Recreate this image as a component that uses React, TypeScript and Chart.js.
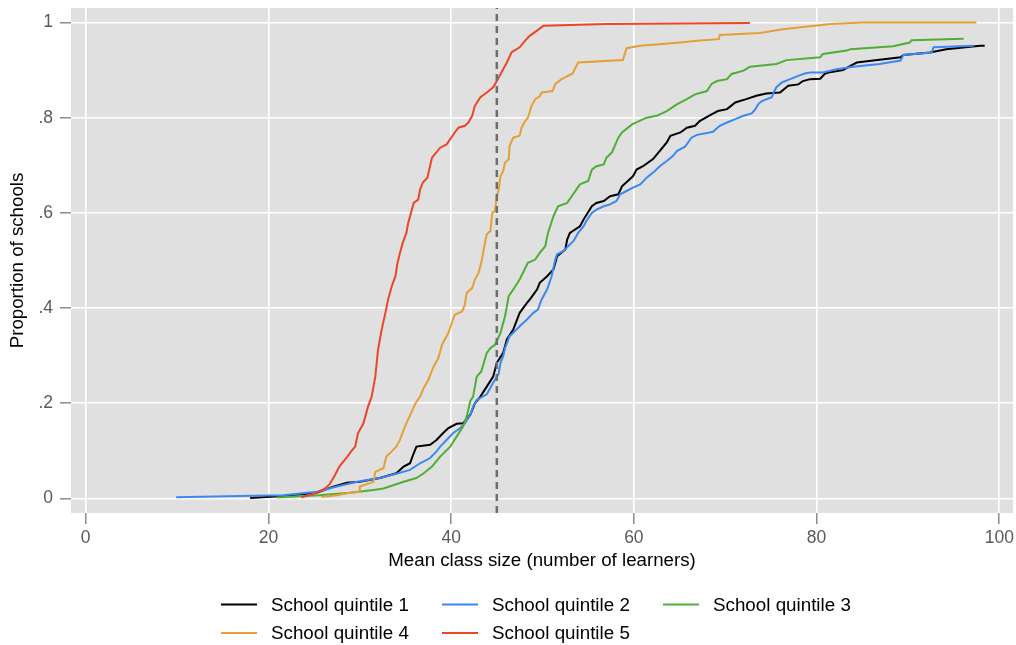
import { useEffect, useRef } from "react";
import { Chart, registerables } from "chart.js";

Chart.register(...registerables);

// Cumulative share of schools by mean class size, one curve per school quintile.
// Each entry is [mean class size, cumulative proportion of schools].
const quintile1: [number, number][] = [
  [18.0, 0.001], [21.6, 0.005], [25.3, 0.012], [27.1, 0.025], [28.6, 0.033], [30.0, 0.035],
  [32.2, 0.043], [34.0, 0.053], [34.8, 0.067], [35.5, 0.074], [35.9, 0.095], [36.2, 0.109],
  [37.7, 0.113], [38.4, 0.123], [39.1, 0.137], [39.7, 0.148], [40.6, 0.157], [41.3, 0.158],
  [42.1, 0.176], [42.6, 0.2], [43.2, 0.214], [43.9, 0.235], [44.6, 0.256], [45.0, 0.285],
  [45.7, 0.306], [46.1, 0.334], [46.8, 0.355], [47.5, 0.39], [48.3, 0.411], [48.6, 0.418],
  [49.4, 0.439], [49.7, 0.453], [50.5, 0.467], [51.2, 0.481], [51.6, 0.509], [52.5, 0.523],
  [52.7, 0.544], [53.0, 0.558], [54.1, 0.572], [54.5, 0.586], [55.4, 0.614], [55.9, 0.621],
  [56.7, 0.625], [57.4, 0.635], [58.3, 0.639], [58.7, 0.656], [59.9, 0.677], [60.3, 0.691],
  [61.0, 0.698], [62.1, 0.713], [63.0, 0.734], [63.6, 0.748], [64.0, 0.762], [65.1, 0.769],
  [65.8, 0.779], [66.7, 0.783], [67.2, 0.793], [68.5, 0.807], [69.2, 0.814], [70.2, 0.818],
  [71.1, 0.832], [72.3, 0.839], [73.4, 0.846], [74.5, 0.851], [76.0, 0.853], [76.9, 0.867],
  [78.0, 0.87], [78.5, 0.877], [79.3, 0.881], [80.4, 0.882], [80.9, 0.892], [81.3, 0.895],
  [82.9, 0.9], [83.7, 0.909], [84.4, 0.916], [86.2, 0.92], [89.2, 0.927], [89.5, 0.932],
  [92.4, 0.937], [94.2, 0.944], [97.9, 0.951], [98.4, 0.951],
];

const quintile2: [number, number][] = [
  [9.9, 0.0025], [16.9, 0.005], [21.6, 0.007], [25.3, 0.014], [27.5, 0.025], [29.7, 0.035],
  [32.2, 0.043], [34.0, 0.052], [35.5, 0.06], [36.6, 0.074], [37.7, 0.085], [38.4, 0.099],
  [38.8, 0.109], [39.5, 0.123], [40.2, 0.137], [41.0, 0.148], [41.5, 0.158], [42.1, 0.176],
  [42.4, 0.193], [42.8, 0.207], [43.9, 0.219], [44.6, 0.243], [45.2, 0.262], [45.4, 0.285],
  [45.7, 0.299], [45.9, 0.316], [46.4, 0.341], [46.8, 0.348], [47.5, 0.362], [48.3, 0.376],
  [49.0, 0.39], [49.5, 0.397], [49.9, 0.418], [50.5, 0.439], [51.0, 0.467], [51.4, 0.502],
  [51.6, 0.513], [52.3, 0.52], [52.8, 0.53], [53.4, 0.541], [53.9, 0.558], [54.5, 0.572],
  [54.8, 0.583], [55.4, 0.6], [55.9, 0.607], [56.7, 0.614], [57.4, 0.618], [58.1, 0.625],
  [58.5, 0.639], [59.2, 0.646], [59.9, 0.653], [60.7, 0.66], [61.4, 0.674], [62.3, 0.688],
  [62.9, 0.699], [63.6, 0.709], [64.3, 0.72], [64.7, 0.73], [65.6, 0.739], [66.3, 0.758],
  [66.9, 0.764], [68.3, 0.769], [68.7, 0.771], [69.4, 0.783], [70.2, 0.79], [71.1, 0.797],
  [72.0, 0.804], [72.9, 0.809], [73.3, 0.818], [73.6, 0.828], [74.0, 0.835], [75.1, 0.843],
  [75.3, 0.853], [75.6, 0.864], [76.2, 0.874], [77.1, 0.881], [78.0, 0.888], [78.7, 0.893],
  [79.3, 0.895], [80.7, 0.895], [82.2, 0.902], [84.0, 0.907], [86.9, 0.913], [89.2, 0.92],
  [89.5, 0.932], [92.6, 0.937], [92.8, 0.948], [97.2, 0.951],
];

const quintile3: [number, number][] = [
  [20.9, 0.002], [25.6, 0.007], [28.9, 0.012], [31.5, 0.018], [32.6, 0.021], [34.8, 0.035],
  [36.2, 0.043], [37.0, 0.053], [37.9, 0.067], [38.8, 0.088], [39.9, 0.109], [40.6, 0.13],
  [41.3, 0.151], [41.7, 0.172], [42.1, 0.205], [42.4, 0.214], [42.8, 0.256], [43.3, 0.267],
  [43.9, 0.306], [44.3, 0.316], [44.8, 0.323], [45.4, 0.348], [45.9, 0.383], [46.3, 0.425],
  [46.8, 0.439], [47.5, 0.46], [48.4, 0.495], [49.2, 0.502], [49.7, 0.516], [50.3, 0.53],
  [50.6, 0.558], [51.2, 0.593], [51.7, 0.614], [52.7, 0.621], [53.2, 0.635], [53.7, 0.649],
  [54.1, 0.66], [55.0, 0.667], [55.4, 0.691], [55.9, 0.698], [56.7, 0.702], [57.0, 0.716],
  [57.6, 0.727], [58.3, 0.758], [58.7, 0.769], [59.8, 0.786], [61.4, 0.8], [62.5, 0.804],
  [63.6, 0.814], [64.7, 0.828], [65.8, 0.839], [66.7, 0.849], [68.0, 0.856], [68.5, 0.871],
  [69.1, 0.877], [70.2, 0.881], [70.7, 0.892], [72.0, 0.899], [72.7, 0.907], [75.6, 0.913],
  [76.7, 0.921], [80.4, 0.927], [80.7, 0.934], [83.3, 0.941], [83.7, 0.944], [88.4, 0.95],
  [90.2, 0.958], [90.4, 0.963], [96.1, 0.966],
];

const quintile4: [number, number][] = [
  [25.8, 0.003], [27.5, 0.007], [28.9, 0.012], [30.0, 0.014], [30.0, 0.025], [31.5, 0.035],
  [31.7, 0.056], [32.6, 0.064], [32.9, 0.088], [33.5, 0.099], [34.0, 0.109], [34.4, 0.123],
  [34.8, 0.144], [35.1, 0.158], [35.7, 0.183], [36.1, 0.2], [36.6, 0.214], [37.0, 0.232],
  [37.5, 0.249], [38.0, 0.274], [38.6, 0.295], [39.0, 0.323], [39.7, 0.348], [40.2, 0.376],
  [40.4, 0.386], [41.2, 0.393], [41.5, 0.407], [41.7, 0.432], [42.3, 0.442], [42.6, 0.46],
  [43.0, 0.474], [43.3, 0.495], [43.5, 0.516], [43.7, 0.537], [43.9, 0.555], [44.3, 0.562],
  [44.5, 0.6], [44.8, 0.604], [45.0, 0.635], [45.2, 0.649], [45.4, 0.677], [45.7, 0.688],
  [45.9, 0.706], [46.3, 0.713], [46.4, 0.741], [46.8, 0.758], [47.5, 0.762], [47.7, 0.779],
  [48.1, 0.793], [48.4, 0.8], [48.8, 0.825], [49.2, 0.839], [49.7, 0.845], [49.9, 0.853],
  [51.1, 0.856], [51.4, 0.871], [52.1, 0.881], [53.3, 0.893], [53.9, 0.916], [58.8, 0.921],
  [59.2, 0.946], [60.7, 0.951], [65.1, 0.958], [67.2, 0.962], [69.3, 0.965], [69.4, 0.974],
  [73.8, 0.978], [76.3, 0.986], [81.5, 0.997], [85.1, 1.0], [97.5, 1.0],
];

const quintile5: [number, number][] = [
  [23.6, 0.002], [25.3, 0.012], [26.2, 0.021], [26.7, 0.03], [27.3, 0.05], [27.8, 0.068],
  [28.6, 0.087], [29.1, 0.1], [29.5, 0.109], [29.8, 0.137], [30.4, 0.158], [30.9, 0.193],
  [31.3, 0.214], [31.7, 0.256], [32.0, 0.313], [32.4, 0.355], [32.8, 0.39], [33.1, 0.418],
  [33.5, 0.446], [33.9, 0.467], [34.1, 0.492], [34.4, 0.516], [34.7, 0.537], [35.1, 0.558],
  [35.3, 0.579], [35.6, 0.6], [35.9, 0.621], [36.4, 0.628], [36.6, 0.649], [36.9, 0.664],
  [37.4, 0.674], [37.7, 0.699], [37.9, 0.716], [38.2, 0.723], [38.8, 0.737], [39.5, 0.744],
  [39.9, 0.755], [40.4, 0.769], [40.8, 0.779], [41.5, 0.783], [41.9, 0.79], [42.3, 0.804],
  [42.6, 0.825], [43.2, 0.843], [43.9, 0.853], [44.6, 0.864], [45.0, 0.877], [45.5, 0.895],
  [46.1, 0.916], [46.6, 0.937], [47.5, 0.948], [48.1, 0.962], [48.6, 0.972], [49.4, 0.983],
  [50.1, 0.993], [57.0, 0.997], [72.7, 0.999],
];

const seriesLabels = [
  "School quintile 1",
  "School quintile 2",
  "School quintile 3",
  "School quintile 4",
  "School quintile 5",
];
const seriesColors = ["#000000", "#3b88f2", "#4fae36", "#e4a037", "#ec4528"];
const seriesPoints = [quintile1, quintile2, quintile3, quintile4, quintile5];

// Class-size threshold marked with a dashed vertical line.
const thresholdClassSize = 45;

const xTickValues = [0, 20, 40, 60, 80, 100];
const yTickValues = [0, 0.2, 0.4, 0.6, 0.8, 1];
const yTickLabels = ["0", ".2", ".4", ".6", ".8", "1"];

const xRange = { min: -1.61, max: 101.5 };
const yRange = { min: -0.0305, max: 1.0305 };

const WIDTH = 1016;
const HEIGHT = 645;
const FONT = "'Liberation Sans', Arial, Helvetica, sans-serif";
const PLOT_BG = "#e0e0e0";
const TICK_GRAY = "#5a5a5a";

const plotBackground = {
  id: "plotBackground",
  beforeDraw(chart: any) {
    const { ctx, chartArea } = chart;
    ctx.save();
    ctx.fillStyle = PLOT_BG;
    ctx.fillRect(chartArea.left, chartArea.top, chartArea.right - chartArea.left, chartArea.bottom - chartArea.top);
    ctx.restore();
  },
};

// Three-column legend under the x-axis title.
const quintileLegend = {
  id: "quintileLegend",
  afterDraw(chart: any) {
    const { ctx } = chart;
    const firstX = 221;
    const colStep = 221;
    const rowYs = [605.5, 634];
    const lineLen = 36;
    const textGap = 14;
    ctx.save();
    ctx.font = `18.8px ${FONT}`;
    ctx.textBaseline = "middle";
    ctx.textAlign = "left";
    seriesLabels.forEach((label, i) => {
      const col = i % 3;
      const row = Math.floor(i / 3);
      const x = firstX + col * colStep;
      const y = rowYs[row];
      ctx.strokeStyle = seriesColors[i];
      ctx.lineWidth = 2;
      ctx.beginPath();
      ctx.moveTo(x, y - 1);
      ctx.lineTo(x + lineLen, y - 1);
      ctx.stroke();
      ctx.fillStyle = "#000000";
      ctx.fillText(label, x + lineLen + textGap, y);
    });
    ctx.restore();
  },
};

export default function App() {
  const canvasRef = useRef<HTMLCanvasElement>(null);

  useEffect(() => {
    const canvas = canvasRef.current;
    if (!canvas) return;

    const curveSets = seriesPoints.map((pts, i) => ({
      label: seriesLabels[i],
      data: pts.map(([x, y]) => ({ x, y })),
      borderColor: seriesColors[i],
      backgroundColor: seriesColors[i],
      borderWidth: 2,
      pointRadius: 0,
      tension: 0,
      fill: false,
      order: 5 - i,
    }));

    const thresholdSet = {
      label: "threshold",
      data: [
        { x: thresholdClassSize, y: yRange.min },
        { x: thresholdClassSize, y: yRange.max },
      ],
      borderColor: "#6e6e6e",
      borderWidth: 2.5,
      borderDash: [7, 5],
      pointRadius: 0,
      fill: false,
      order: 0,
    };

    const chart = new Chart(canvas, {
      type: "line",
      data: { datasets: [...curveSets, thresholdSet] as any },
      options: {
        animation: false,
        responsive: false,
        devicePixelRatio: 1,
        events: [],
        layout: { padding: { left: 0, top: 8, right: 3, bottom: 0 } },
        plugins: {
          legend: { display: false },
          tooltip: { enabled: false },
        },
        scales: {
          x: {
            type: "linear",
            min: xRange.min,
            max: xRange.max,
            afterBuildTicks: (scale: any) => {
              scale.ticks = xTickValues.map((value) => ({ value }));
            },
            afterFit: (scale: any) => {
              scale.height = 132;
              scale.paddingLeft = 0;
              scale.paddingRight = 0;
            },
            border: { display: false },
            grid: {
              color: "#ffffff",
              lineWidth: 1.6,
              drawTicks: true,
              tickLength: 11,
              tickColor: "#7a7a7a",
              tickWidth: 1.3,
            },
            ticks: {
              autoSkip: false,
              maxRotation: 0,
              padding: 4,
              color: TICK_GRAY,
              font: { family: FONT, size: 17.5 },
              callback: (v: any) => String(v),
            },
            title: {
              display: true,
              text: "Mean class size (number of learners)",
              color: "#000000",
              font: { family: FONT, size: 18.7 },
              padding: { top: 0, bottom: 72.8 },
            },
          },
          y: {
            type: "linear",
            min: yRange.min,
            max: yRange.max,
            afterBuildTicks: (scale: any) => {
              scale.ticks = yTickValues.map((value) => ({ value }));
            },
            afterFit: (scale: any) => {
              scale.width = 71;
              scale.paddingTop = 0;
              scale.paddingBottom = 0;
            },
            border: { display: false },
            grid: {
              color: "#ffffff",
              lineWidth: 1.6,
              drawTicks: true,
              tickLength: 11,
              tickColor: "#7a7a7a",
              tickWidth: 1.3,
            },
            ticks: {
              autoSkip: false,
              padding: 7,
              color: TICK_GRAY,
              font: { family: FONT, size: 17.5 },
              callback: (v: any) => {
                const idx = yTickValues.findIndex((t) => Math.abs(t - v) < 1e-9);
                return idx >= 0 ? yTickLabels[idx] : "";
              },
            },
            title: {
              display: true,
              text: "Proportion of schools",
              color: "#000000",
              font: { family: FONT, size: 18.7 },
              padding: { top: 7, bottom: 0 },
            },
          },
        },
      },
      plugins: [plotBackground, quintileLegend],
    });

    return () => chart.destroy();
  }, []);

  return (
    <div style={{ position: "absolute", left: 0, top: 0, width: WIDTH, height: HEIGHT, background: "#ffffff" }}>
      <canvas ref={canvasRef} width={WIDTH} height={HEIGHT} style={{ display: "block", width: WIDTH, height: HEIGHT }} />
    </div>
  );
}
